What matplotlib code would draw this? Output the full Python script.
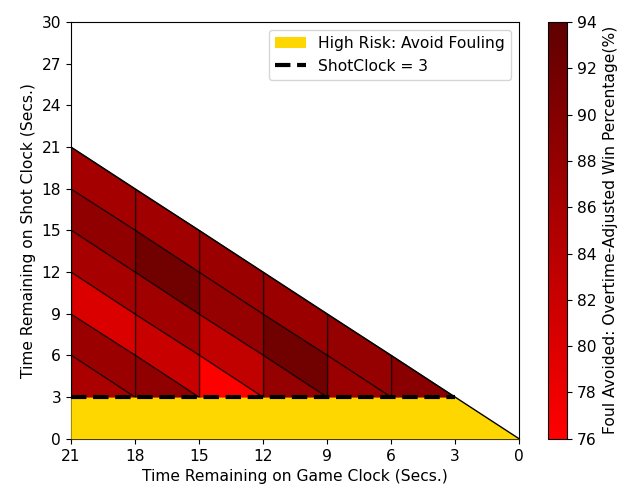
import numpy as np
import matplotlib
matplotlib.use("Agg")
import matplotlib.pyplot as plt
from matplotlib.colors import LinearSegmentedColormap

plt.rcParams["font.size"] = 11.2

# game clock bins (secs remaining), from 21 down to 3
game_clock_edges = [21, 18, 15, 12, 9, 6, 3]
# gap between game clock and shot clock, in 3 sec bands
clock_gap_edges = [0, 3, 6, 9, 12, 15, 18]

# win % when foul is avoided, one list per gap band, columns from game clock 21 downward
win_gap_0_3 = [86.3, 86.6, 87.3, 87.3, 88.0, 89.2]
win_gap_3_6 = [88.5, 92.0, 88.0, 92.0, 87.3]
win_gap_6_9 = [86.1, 86.6, 83.1, 88.0]
win_gap_9_12 = [80.2, 82.2, 76.0]
win_gap_12_15 = [87.3, 88.5]
win_gap_15_18 = [85.5]
bands = [win_gap_0_3, win_gap_3_6, win_gap_6_9, win_gap_9_12, win_gap_12_15, win_gap_15_18]

shot_clock_cutoff = 3
vmin, vmax = 76, 94

t = np.array(game_clock_edges[::-1], dtype=float)
d = np.array(clock_gap_edges, dtype=float)
T, D = np.meshgrid(t, d)
S = T - D

C = np.full((len(d) - 1, len(t) - 1), np.nan)
for j, band in enumerate(bands):
    for k, v in enumerate(band):
        C[j, len(t) - 2 - k] = v
C = np.ma.masked_invalid(C)

cmap = LinearSegmentedColormap.from_list("foul", ["#ff0000", "#600000"])

fig = plt.figure(figsize=(6.27, 4.87), dpi=100)
ax = fig.add_axes([0.113, 0.099, 0.715, 0.856])
cax = fig.add_axes([0.874, 0.099, 0.031, 0.856])

mesh = ax.pcolormesh(T, S, C, cmap=cmap, vmin=vmin, vmax=vmax,
                     edgecolors=(0, 0, 0, 0.7), linewidth=0.9,
                     antialiased=True)

xs = np.array([21, shot_clock_cutoff, 0])
ax.fill_between(xs, 0, np.minimum(xs, shot_clock_cutoff), color="gold",
                zorder=3, label="High Risk: Avoid Fouling", linewidth=0)
ax.plot([21, 0], [21, 0], color="black", lw=1, zorder=4)
ax.plot([21, shot_clock_cutoff], [shot_clock_cutoff, shot_clock_cutoff],
        "k--", lw=3, zorder=5, label=f"ShotClock = {shot_clock_cutoff}")

ax.set_xlim(21, 0)
ax.set_ylim(0, 30)
ax.set_xticks(range(21, -1, -3))
ax.set_yticks(range(0, 31, 3))
ax.set_xlabel("Time Remaining on Game Clock (Secs.)")
ax.set_ylabel("Time Remaining on Shot Clock (Secs.)")
ax.legend(loc="upper right")

cb = fig.colorbar(mesh, cax=cax, ticks=range(76, 95, 2))
cb.set_label("Foul Avoided: Overtime-Adjusted Win Percentage(%)")

fig.savefig("out.png", dpi=100)
